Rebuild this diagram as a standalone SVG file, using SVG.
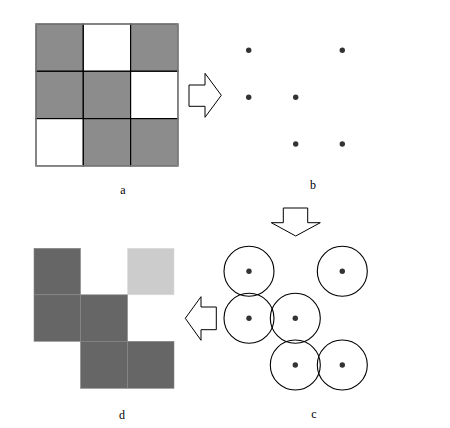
<svg xmlns="http://www.w3.org/2000/svg" width="450" height="428" viewBox="0 0 450 428">
<style>
.g{fill:#8c8c8c}
.w{fill:#fff}
.cell{stroke:#000;stroke-width:1.2}
.dk{fill:#666;stroke:#888;stroke-width:0.6}
.lt{fill:#ccc;stroke:#ddd;stroke-width:0.6}
.arrow{fill:#fff;stroke:#000;stroke-width:1}
.dot{fill:#333}
.ring{fill:none;stroke:#000;stroke-width:1.1}
.lbl{font-family:"Liberation Serif",serif;font-size:12px;fill:#000;text-anchor:middle}
</style>
<rect width="450" height="428" fill="#fff"/>
<g id="grid-a">
<rect class="g cell" x="36" y="24" width="47.3" height="47.3"/>
<rect class="w cell" x="83.3" y="24" width="47.3" height="47.3"/>
<rect class="g cell" x="130.6" y="24" width="47.3" height="47.3"/>
<rect class="g cell" x="36" y="71.3" width="47.3" height="47.3"/>
<rect class="g cell" x="83.3" y="71.3" width="47.3" height="47.3"/>
<rect class="w cell" x="130.6" y="71.3" width="47.3" height="47.3"/>
<rect class="w cell" x="36" y="118.6" width="47.3" height="47.3"/>
<rect class="g cell" x="83.3" y="118.6" width="47.3" height="47.3"/>
<rect class="g cell" x="130.6" y="118.6" width="47.3" height="47.3"/>
<rect x="36" y="24" width="141.9" height="141.9" fill="none" stroke="#999" stroke-width="1.2"/>
<text class="lbl" x="123" y="194">a</text>
</g>
<g id="points-b">
<circle class="dot" cx="248.7" cy="50.3" r="2.7"/>
<circle class="dot" cx="342.3" cy="50.3" r="2.7"/>
<circle class="dot" cx="248.7" cy="97.3" r="2.7"/>
<circle class="dot" cx="295.7" cy="97.3" r="2.7"/>
<circle class="dot" cx="295.7" cy="144" r="2.7"/>
<circle class="dot" cx="342.3" cy="144" r="2.7"/>
<text class="lbl" x="313" y="189">b</text>
</g>
<g id="circles-c">
<circle class="ring" cx="249" cy="271.3" r="25"/>
<circle class="ring" cx="342.3" cy="271.3" r="25"/>
<circle class="ring" cx="249" cy="318.3" r="25"/>
<circle class="ring" cx="295.3" cy="318.3" r="25"/>
<circle class="ring" cx="295.3" cy="365" r="25"/>
<circle class="ring" cx="342.3" cy="365" r="25"/>
<circle class="dot" cx="249" cy="271.3" r="2.7"/>
<circle class="dot" cx="342.3" cy="271.3" r="2.7"/>
<circle class="dot" cx="249" cy="318.3" r="2.7"/>
<circle class="dot" cx="295.3" cy="318.3" r="2.7"/>
<circle class="dot" cx="295.3" cy="365" r="2.7"/>
<circle class="dot" cx="342.3" cy="365" r="2.7"/>
<text class="lbl" x="314" y="418">c</text>
</g>
<g id="grid-d">
<rect class="dk" x="34" y="248.3" width="46.5" height="46.5"/>
<rect class="lt" x="127.5" y="248.3" width="46.5" height="46.5"/>
<rect class="dk" x="34" y="294.8" width="46.5" height="46.5"/>
<rect class="dk" x="80.5" y="294.8" width="47" height="46.5"/>
<rect class="dk" x="80.5" y="341.3" width="47" height="47"/>
<rect class="dk" x="127.5" y="341.3" width="46.5" height="47"/>
<text class="lbl" x="122" y="419">d</text>
</g>
<g id="connectors">
<polygon class="arrow" points="189,85 205,85 205,73.3 221.3,95.3 205,117.3 205,106.3 189,106.3"/>
<polygon class="arrow" points="283.3,208 307.7,208 307.7,222.7 320.3,222.7 295.7,236 271.3,222.7 283.3,222.7"/>
<polygon class="arrow" points="216.3,307 201,307 201,296.7 185.3,318.3 201,340.3 201,329.7 216.3,329.7"/>
</g>
</svg>
